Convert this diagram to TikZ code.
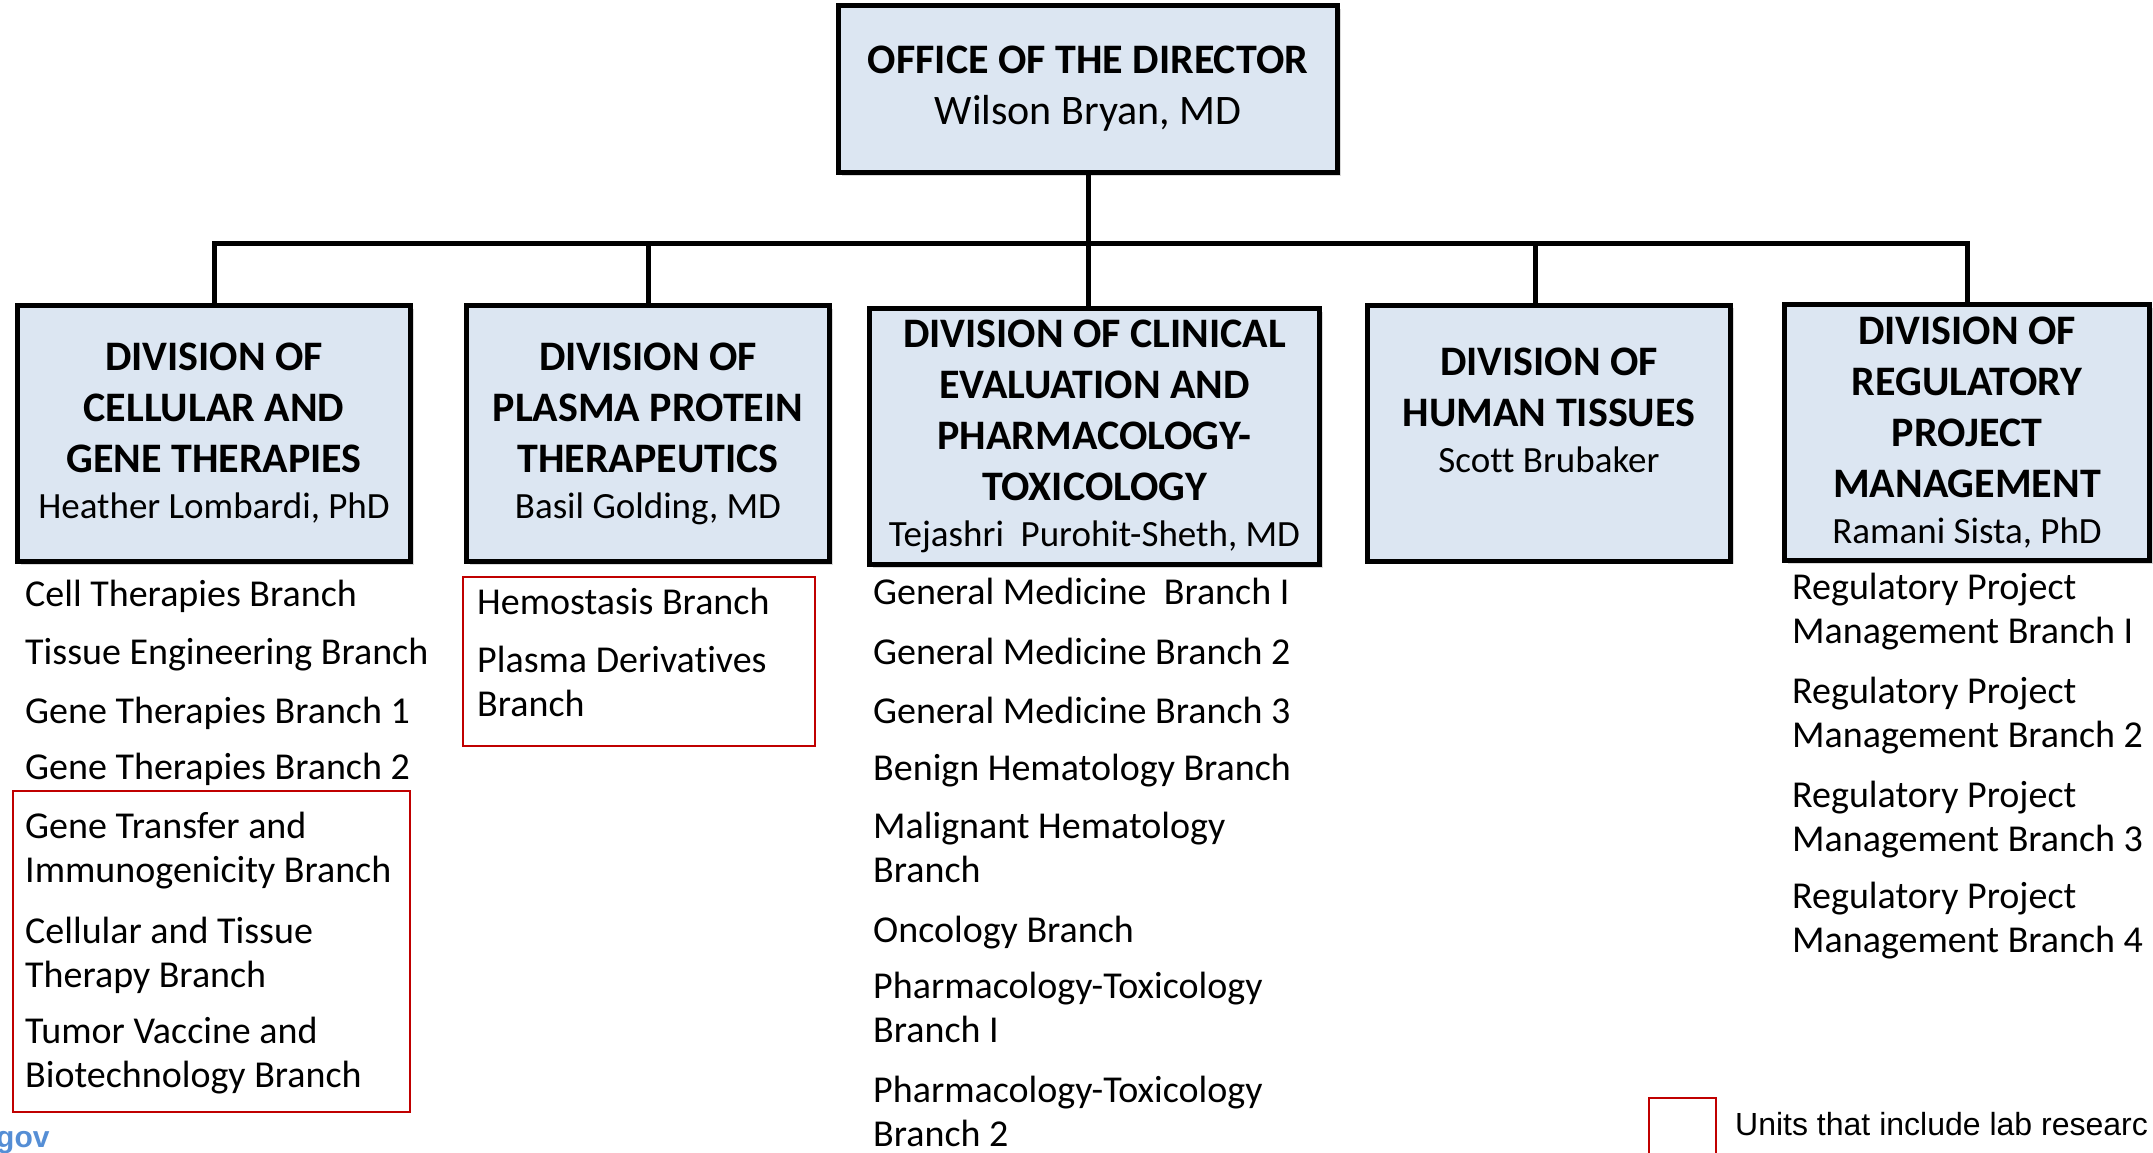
\documentclass[tikz,border=0pt]{standalone}
\usepackage{fontspec}
\setmainfont{Carlito}[Ligatures=NoCommon]
\newfontfamily\arialfont{Liberation Sans}
\usetikzlibrary{arrows.meta,positioning,shadows}

\definecolor{boxblue}{HTML}{DCE6F2}
\definecolor{labred}{HTML}{C00000}
\definecolor{webblue}{HTML}{558ED5}

\newcommand{\titlefont}{\fontsize{42}{51}\selectfont\bfseries}
\newcommand{\namefont}{\fontsize{37}{46}\selectfont}
\newcommand{\itemfont}{\fontsize{38}{44}\selectfont}

\begin{document}
\begin{tikzpicture}[x=1pt, y=-1pt,
    office/.style={draw, line width=5pt, fill=boxblue, align=center,
      inner sep=0pt, minimum height=256pt,
      execute at begin node={\spaceskip=0pt\xspaceskip=0pt
        \leftskip=0pt plus 1fil\rightskip=0pt plus 1fil\parfillskip=0pt\relax},
      drop shadow={shadow xshift=3pt, shadow yshift=-3pt, opacity=0.3}},
    conn/.style={line width=5pt},
    item/.style={anchor=north west, yshift=30.8pt, inner sep=0pt,
      align=left, font=\itemfont,
      execute at begin node={\spaceskip=0pt\xspaceskip=0pt\relax}},
    labbox/.style={draw=labred, line width=2pt}]
  \clip (0,0) rectangle (2153,1152);

  % office and divisions
  \node[office, minimum width=499pt, minimum height=167pt, text width=480pt]
    (director) at (1088,89)
    {{\titlefont OFFICE OF THE DIRECTOR\par}
     {\fontsize{42}{51}\selectfont Wilson Bryan, MD\par}};
  \node[office, minimum width=393pt, text width=380pt] (dcgt) at (214,433.5)
    {{\titlefont DIVISION OF\\CELLULAR AND\\GENE THERAPIES\par}
     {\namefont Heather Lombardi, PhD\par}};
  \node[office, minimum width=363pt, text width=350pt] (dppt) at (648,433.5)
    {{\titlefont DIVISION OF\\PLASMA PROTEIN\\THERAPEUTICS\par}
     {\namefont Basil Golding, MD\par}};
  \node[office, minimum width=450pt, text width=440pt] (dcept) at (1094.5,436.5)
    {{\titlefont DIVISION OF CLINICAL\\EVALUATION AND\\PHARMACOLOGY-\\TOXICOLOGY\par}
     {\namefont Tejashri\ \ Purohit-Sheth, MD\par}};
  \node[office, minimum width=363pt, text width=350pt] (dht) at (1549,433)
    {{\titlefont DIVISION OF\\HUMAN TISSUES\par}
     {\namefont Scott Brubaker\\\mbox{}\par}};
  \node[office, minimum width=365pt, text width=355pt] (drpm) at (1967,432.5)
    {{\titlefont DIVISION OF\\REGULATORY\\PROJECT\\MANAGEMENT\par}
     {\namefont Ramani Sista, PhD\par}};

  % connectors
  \coordinate (bus) at (0,243);
  \draw[conn] (director.south) -- (director.south |- dcept.north);
  \draw[conn] (dcgt.north) -- (dcgt.north |- bus) -- (drpm.north |- bus)
    -- (drpm.north);
  \draw[conn] (dppt.north) -- (dppt.north |- bus);
  \draw[conn] ([xshift=-14pt]dht.north) -- ([xshift=-14pt]dht.north |- bus);

  % branches
  \foreach \n/\y/\t in {1/606/{Cell Therapies Branch},
      2/664/{Tissue Engineering Branch}, 3/723/{Gene Therapies Branch 1},
      4/779/{Gene Therapies Branch 2},
      5/838/{Gene Transfer and\\Immunogenicity Branch},
      6/943/{Cellular and Tissue\\Therapy Branch},
      7/1043/{Tumor Vaccine and\\Biotechnology Branch}}
    \node[item] (cgt\n) at (25,\y) {\strut\t};
  \foreach \n/\y/\t in {1/614/{Hemostasis Branch},
      2/672/{Plasma Derivatives\\Branch}}
    \node[item] (ppt\n) at (477,\y) {\strut\t};
  \foreach \n/\y/\t in {1/604/{General Medicine\ \ Branch I},
      2/664/{General Medicine Branch 2}, 3/723/{General Medicine Branch 3},
      4/780/{Benign Hematology Branch}, 5/838/{Malignant Hematology\\Branch},
      6/942/{Oncology Branch}, 7/998/{Pharmacology-Toxicology\\Branch I},
      8/1102/{Pharmacology-Toxicology\\Branch 2}}
    \node[item] (cept\n) at (873,\y) {\strut\t};
  \foreach \n/\y/\t in {1/599/I, 2/703/2, 3/807/3, 4/908/4}
    \node[item] (rpm\n) at (1792,\y) {\strut Regulatory Project\\Management Branch \t};

  % units with lab research
  \draw[labbox] (13,791) rectangle (410,1112);
  \draw[labbox] (463,577) rectangle (815,746);

  % legend
  \node[labbox, minimum size=67pt, inner sep=0pt] (legend) at (1682.5,1131.5) {};
  \node[anchor=base west, inner sep=0pt, font=\arialfont\fontsize{32}{38}\selectfont]
    (legendtext) at (1735,1135) {Units that include lab researc};
  \node[anchor=base west, inner sep=0pt, text=webblue,
    font=\arialfont\bfseries\fontsize{30}{36}\selectfont]
    (webgov) at (-4,1147) {gov};
\end{tikzpicture}
\end{document}
